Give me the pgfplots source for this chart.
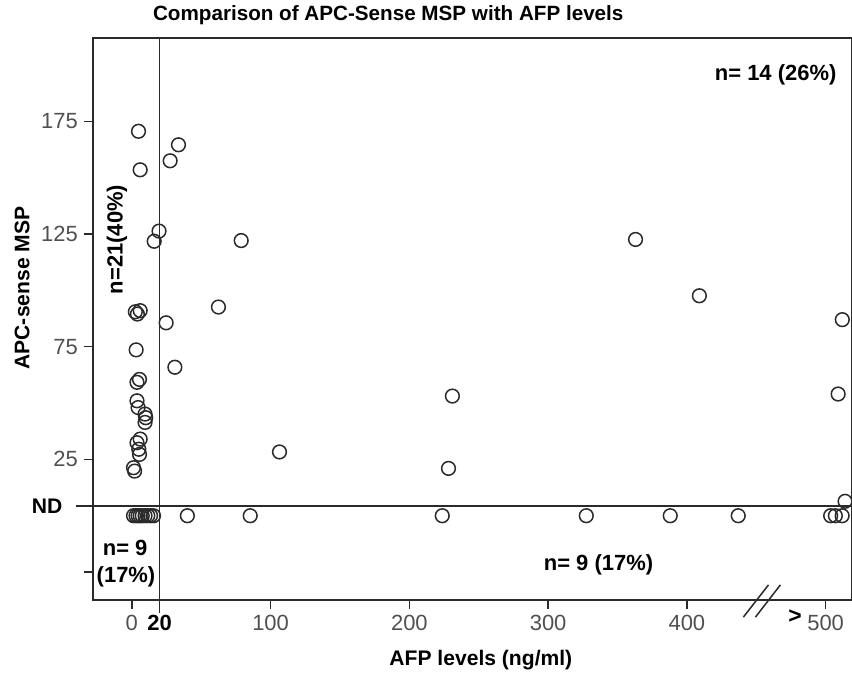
\documentclass[border=0pt]{standalone}
\usepackage{fontspec}
\setmainfont{Liberation Sans}
\usepackage{pgfplots}
\pgfplotsset{compat=1.18}

\definecolor{ink}{HTML}{2A2A2A}
\definecolor{ticktxt}{HTML}{505050}

\begin{document}
\begin{tikzpicture}
\path[use as bounding box] (-18.6mm,-15.2mm) rectangle (151.8mm,120mm);
\begin{axis}[
  at={(0,0)}, anchor=south west,
  scale only axis, width=151.8mm, height=112.4mm,
  xmin=-28, xmax=519, ymin=-37.4, ymax=212,
  axis line style={ink, line width=0.3mm},
  tick style={ink, line width=0.3mm},
  tick align=outside, major tick length=1.8mm,
  xtick pos=bottom, ytick pos=left,
  xtick={0,20,100,200,300,400,500},
  xticklabels={0,\textcolor{black}{\textbf{20}},100,200,300,400,500},
  ytick={-25,25,75,125,175},
  yticklabels={,25,75,125,175},
  tick label style={font=\fontsize{12.5}{14}\selectfont, text=ticktxt},
  /pgf/number format/assume math mode=true,
  clip=false,
]
% reference lines: ND and AFP = 20
\addplot[ink, line width=0.33mm] coordinates {(20,-37.4) (20,212)};
\draw[ink, line width=0.33mm] (axis cs:20,-37.4) -- ([yshift=-2.6mm]axis cs:20,-37.4);
\draw[ink, line width=0.33mm] ([xshift=-3.4mm]axis cs:-28,4.2) -- (axis cs:519,4.2);
\node[anchor=east, font=\bfseries\fontsize{12}{14}\selectfont] at ([xshift=-4.9mm]axis cs:-28,4.2) {ND};

% axis break
\draw[ink, line width=0.3mm] (axis cs:440.7,-45) -- (axis cs:458.8,-30.7);
\draw[ink, line width=0.3mm] (axis cs:449.4,-45) -- (axis cs:467.4,-30.7);
\node[font=\bfseries\fontsize{13}{14}\selectfont] at (axis cs:478,-44.8) {>};

% upper left, n = 21
\addplot[only marks, mark=o, mark size=3.9pt, ink, line width=0.3mm] coordinates {
(4.8,170.6) (6,153.5) (19.6,126.3) (16.1,121.8)
(2.5,90.5) (4,89.5) (6,91) (3.1,73.6)
(3.7,59.2) (5.5,60.5) (3.7,51) (4.5,48)
(9.5,45.1) (10,43.5) (9.5,41.4) (6,34)
(3.7,32.4) (5,29.5) (5.5,27.2) (1.2,21.3) (2,19.8)
};
% upper right, n = 14
\addplot[only marks, mark=o, mark size=3.9pt, ink, line width=0.3mm] coordinates {
(27.6,157.5) (33.6,164.6) (78.8,122.1) (62.4,92.6) (24.7,85.6) (31,65.9)
(106.4,28.3) (228.2,21) (231,53.1) (363,122.6) (409,97.6)
(512,87) (509,54) (514,6.4)
};
% not detected
\addplot[only marks, mark=o, mark size=3.9pt, ink, line width=0.3mm] coordinates {
(1.2,0) (3,0) (4.5,0) (6,0) (7.5,0) (9.5,0) (11.5,0) (13.5,0) (15.6,0)
(40,0) (85.3,0) (223.7,0) (327.5,0) (388,0) (437,0) (503.6,0) (507,0) (511.9,0)
};

\begin{scope}[font=\bfseries\fontsize{12.5}{14}\selectfont]
\node at (axis cs:464,195.7) {n= 14 (26\%)};
\node[rotate=90] at (axis cs:-10.8,122.6) {n=21(40\%)};
\node at (axis cs:-4.8,-14.2) {n= 9};
\node at (axis cs:-4.2,-27.1) {(17\%)};
\node at (axis cs:336.3,-21.8) {n= 9 (17\%)};
\end{scope}

\node[font=\bfseries\fontsize{12}{14}\selectfont] at ([yshift=-12mm]rel axis cs:0.511,0) {AFP levels (ng/ml)};
\node[rotate=90, font=\bfseries\fontsize{12}{14}\selectfont] at ([xshift=-14.2mm]rel axis cs:0,0.555) {APC-sense MSP};
\node[font=\bfseries\fontsize{11.75}{14}\selectfont] at ([yshift=4.6mm]rel axis cs:0.389,1) {Comparison of APC-Sense MSP with AFP levels};
\end{axis}
\end{tikzpicture}
\end{document}
